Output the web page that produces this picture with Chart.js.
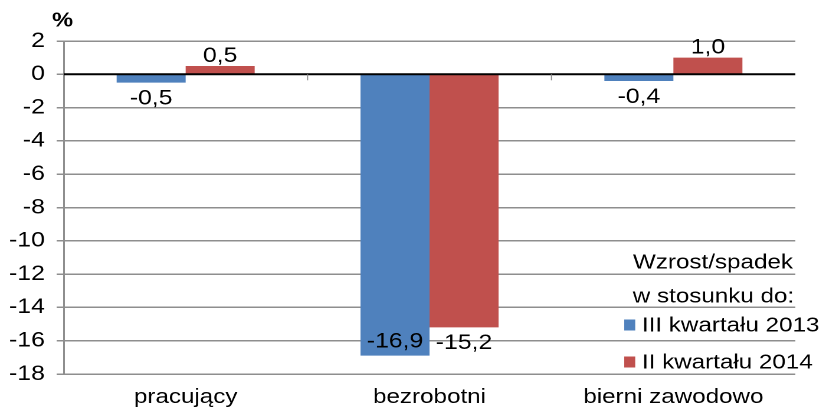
<!DOCTYPE html>
<html lang="pl">
<head>
<meta charset="utf-8">
<script src="https://cdn.jsdelivr.net/npm/chart.js@4"></script>
<style>
  html, body { margin: 0; padding: 0; background: #fff; overflow: hidden; }
  /* the reference is drawn a bit wide, so the chart is stretched sideways */
  #wrap { width: 695px; height: 416px; transform: scaleX(1.18); transform-origin: 0 0; }
</style>
</head>
<body>
<div id="wrap"><canvas id="myChart"></canvas></div>
<script>
var categories = ["pracujący", "bezrobotni", "bierni zawodowo"];
var seriesNames = ["III kwartału 2013", "II kwartału 2014"];
var vsQ3_2013 = [-0.5, -16.9, -0.4];
var vsQ2_2014 = [0.5, -15.2, 1.0];
var legendTitle = ["Wzrost/spadek", "w stosunku do:"];
var unitLabel = "%";

var BLUE = "#4F81BD";
var RED = "#C0504D";
var GRID = "#8e8e8e";
var FONT = "'Liberation Sans', Arial, sans-serif";

function fmt(v) {
  return v.toFixed(1).replace(".", ",");
}

// value labels, zero line, legend and the "%" above the axis
var extras = {
  id: "extras",
  afterDatasetsDraw: function (chart) {
    var ctx = chart.ctx;
    var area = chart.chartArea;
    var y = chart.scales.y;
    var x = chart.scales.x;
    var y0 = y.getPixelForValue(0);

    ctx.save();
    ctx.strokeStyle = "#000";
    ctx.lineWidth = 2;
    ctx.beginPath();
    ctx.moveTo(area.left, y0);
    ctx.lineTo(area.right, y0);
    ctx.stroke();

    // small ticks between categories under the zero line
    ctx.strokeStyle = GRID;
    ctx.lineWidth = 1;
    for (var i = 0; i < categories.length - 1; i++) {
      var bx = (x.getPixelForTick(i) + x.getPixelForTick(i + 1)) / 2;
      ctx.beginPath();
      ctx.moveTo(bx, y0);
      ctx.lineTo(bx, y0 + 6);
      ctx.stroke();
    }

    ctx.fillStyle = "#000";
    ctx.font = "21px " + FONT;
    ctx.textAlign = "center";
    ctx.textBaseline = "middle";
    chart.data.datasets.forEach(function (ds, di) {
      chart.getDatasetMeta(di).data.forEach(function (bar, i) {
        var v = ds.data[i];
        var ly;
        if (v >= 0) {
          ly = bar.y - 10;
        } else {
          ly = bar.y + 16;
          if (ly + 10 > area.bottom) ly = bar.y - 14;
        }
        ctx.fillText(fmt(v), bar.x, ly);
      });
    });

    // legend in the lower right corner of the plot
    ctx.font = "20.5px " + FONT;
    ctx.textAlign = "right";
    ctx.fillText(legendTitle[0], area.right - 2, area.bottom - 111);
    ctx.fillText(legendTitle[1], area.right - 1, area.bottom - 77);
    var lx = area.right - 145;
    chart.data.datasets.forEach(function (ds, di) {
      var iy = area.bottom - 49 + di * 37;
      ctx.fillStyle = ds.backgroundColor;
      ctx.fillRect(lx, iy - 5.5, 9.3, 11);
      ctx.fillStyle = "#000";
      ctx.textAlign = "left";
      ctx.fillText(ds.label, lx + 15, iy + 1);
    });

    ctx.font = "bold 20px " + FONT;
    ctx.textAlign = "center";
    ctx.fillText(unitLabel, area.left - 1, area.top - 20);
    ctx.restore();
  }
};

document.addEventListener("DOMContentLoaded", function () {
  var ctx = document.getElementById("myChart").getContext("2d");
  window.myChart = new Chart(ctx, {
    type: "bar",
    data: {
      labels: categories,
      datasets: [
        { label: seriesNames[0], data: vsQ3_2013, backgroundColor: BLUE },
        { label: seriesNames[1], data: vsQ2_2014, backgroundColor: RED }
      ]
    },
    options: {
      responsive: true,
      maintainAspectRatio: false,
      devicePixelRatio: 2,
      animation: false,
      layout: { padding: { top: 41, right: 21, bottom: 0, left: 0 } },
      datasets: {
        bar: { categoryPercentage: 0.566, barPercentage: 1 }
      },
      plugins: {
        legend: { display: false },
        tooltip: { enabled: false }
      },
      scales: {
        x: {
          grid: { display: false },
          border: { display: false },
          ticks: { color: "#000", font: { family: FONT, size: 20.5 }, padding: 3 },
          afterFit: function (s) { s.height = 42; }
        },
        y: {
          min: -18,
          max: 2,
          ticks: {
            stepSize: 2,
            color: "#000",
            padding: 10,
            font: { family: FONT, size: 21 },
            callback: function (v) { return String(v); }
          },
          grid: {
            color: GRID,
            lineWidth: 1.5,
            tickLength: 6
          },
          border: { color: GRID, width: 1.5 },
          afterFit: function (s) { s.width = 54; }
        }
      }
    },
    plugins: [extras]
  });
});
</script>
</body>
</html>
